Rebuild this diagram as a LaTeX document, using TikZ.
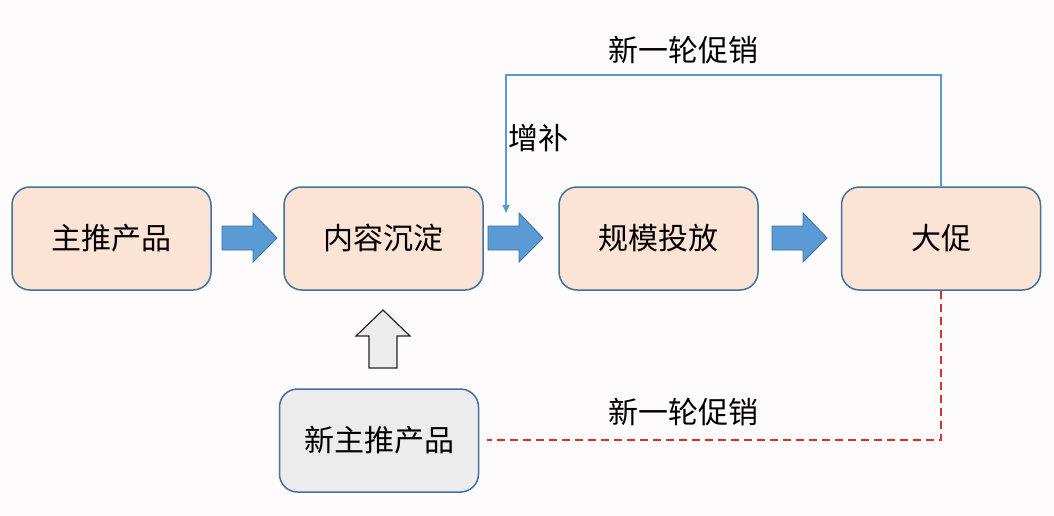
\documentclass[tikz,border=0pt]{standalone}
\usepackage{fontspec}
\setmainfont{Noto Sans CJK SC}
\usetikzlibrary{arrows.meta}
\definecolor{bg}{HTML}{FDFBFC}
\definecolor{peach}{HTML}{FBE3D5}
\definecolor{boxline}{HTML}{41719C}
\definecolor{blk}{HTML}{5B9BD5}
\definecolor{grayfill}{HTML}{ECECEC}
\definecolor{redline}{HTML}{D9302A}
\tikzset{
  stagebox/.style={draw=boxline, line width=1.5pt, fill=peach, rounded corners=18pt,
    minimum width=199pt, minimum height=103pt, font=\fontsize{30}{33}\selectfont, inner sep=0pt},
  graybox/.style={stagebox, fill=grayfill},
  blockarrow/.style={fill=blk, draw=boxline, line width=0.9pt},
  uparrow/.style={fill=grayfill, draw=black!85, line width=1.2pt},
  lbl/.style={font=\fontsize{30}{33}\selectfont, inner sep=0pt},
  loopline/.style={draw=blk, line width=1.4pt},
  dashline/.style={draw=redline, line width=1.6pt, dash pattern=on 8pt off 5pt}
}
\begin{document}
\begin{tikzpicture}[x=1pt,y=-1pt]
\useasboundingbox (0,0) rectangle (1054,516);
\fill[bg] (0,0) rectangle (1054,516);
% boxes
\node[stagebox] (a) at (111.5,238.5) {主推产品};
\node[stagebox] (b) at (383.5,238.5) {内容沉淀};
\node[stagebox] (c) at (658.5,238.5) {规模投放};
\node[stagebox] (d) at (941,238.5) {大促};
\node[graybox] (e) at (379,440.5) {新主推产品};
% block arrows
\foreach \x in {222,488,772}{
  \draw[blockarrow] (\x,226) -- (\x+31,226) -- (\x+31,213) -- (\x+55,238) -- (\x+31,262) -- (\x+31,250) -- (\x,250) -- cycle;
}
% up arrow
\draw[uparrow] (369,368) -- (369,336) -- (356,336) -- (383,310) -- (410,336) -- (397,336) -- (397,368) -- cycle;
% blue loop connector
\coordinate (tl) at (506,75);
\coordinate (tip) at (506,213);
\draw[loopline, -{Triangle[width=7pt,length=8pt]}] (d.north) -- (d.north |- tl) -- (tl) -- (tip);
\node[lbl] (l1) at (683,50) {新一轮促销};
\node[lbl] (l2) at (538,138) {增补};
% red dashed connector
\coordinate (br) at (941,440);
\draw[dashline] (d.south) -- (br) -- ([xshift=8pt]e.east |- br);
\node[lbl] (l3) at (683,412) {新一轮促销};
\end{tikzpicture}
\end{document}
